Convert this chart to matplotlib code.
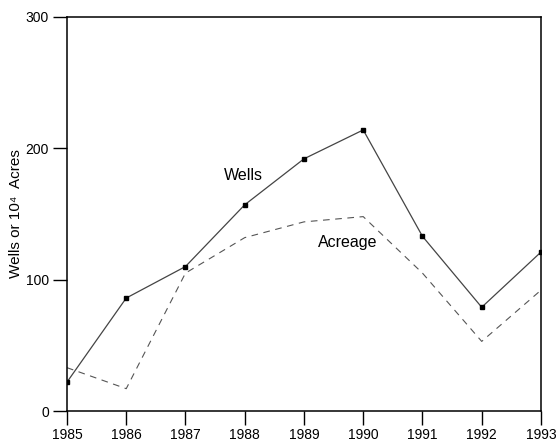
import matplotlib
matplotlib.use("Agg")
import matplotlib.pyplot as plt

years = [1985, 1986, 1987, 1988, 1989, 1990, 1991, 1992, 1993]
wells = [22, 86, 110, 157, 192, 214, 133, 79, 121]
acreage = [33, 17, 105, 132, 144, 148, 105, 53, 92]

plt.rcParams['font.family'] = ['Liberation Sans', 'DejaVu Sans']

fig = plt.figure(figsize=(5.6, 4.41), dpi=100)
ax = fig.add_axes([0.1196, 0.068, 0.8464, 0.8935])

# Wells: solid line with small square markers
ax.plot(years, wells, color='#444444', linewidth=0.9,
        marker='s', markersize=2.2, markerfacecolor='black', markeredgecolor='black')
# Acreage: dashed line
ax.plot(years, acreage, color='#555555', linewidth=0.8, linestyle=(0, (6, 5)))

ax.text(1987.97, 179, 'Wells', fontsize=11.5, ha='center', va='center')
ax.text(1989.74, 128.5, 'Acreage', fontsize=11.5, ha='center', va='center')

ax.set_xlim(1985, 1993)
ax.set_ylim(0, 300)
ax.set_xticks(years)
ax.set_yticks([0, 100, 200, 300])
ax.tick_params(direction='out', length=10, width=1, labelsize=10, color='black')
ax.tick_params(axis='x', pad=2)
ax.tick_params(axis='y', pad=3)
ax.set_ylabel('Wells or 10\u2074  Acres', fontsize=11, labelpad=2)

for s in ax.spines.values():
    s.set_linewidth(1.1)
    s.set_color('black')

fig.savefig('out.png', dpi=100)
